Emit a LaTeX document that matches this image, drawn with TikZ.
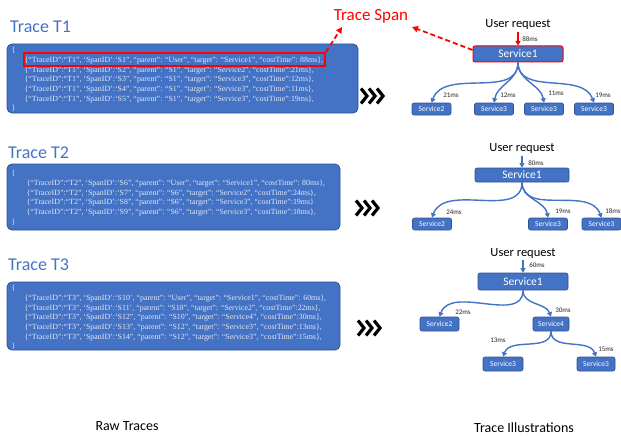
\documentclass[tikz,border=0pt]{standalone}
\usepackage{fontspec}
\setmainfont{Carlito}
\newfontfamily\jsonfont{Liberation Serif}
\usetikzlibrary{arrows.meta,calc}
\definecolor{boxblue}{HTML}{4472C4}
\definecolor{boxedge}{HTML}{2F528F}
\definecolor{jsontext}{HTML}{E4EAF6}

\tikzset{
  tracebox/.style={fill=boxblue, draw=boxedge, line width=0.8pt, rounded corners=5pt},
  json/.style={anchor=north west, align=left, inner sep=0pt, text=jsontext,
    font=\jsonfont\fontsize{7.9}{9.7}\selectfont},
  ttitle/.style={anchor=base west, inner sep=0pt, text=boxblue, font=\fontsize{18}{20}\selectfont},
  svc/.style={fill=boxblue, draw=boxedge, line width=0.6pt, rounded corners=2pt, text=white,
    inner sep=0pt, minimum height=12pt, minimum width=39pt, font=\fontsize{7.5}{9}\selectfont},
  svcmain/.style={svc, font=\fontsize{11.5}{13}\selectfont},
  ureq/.style={anchor=base, inner sep=0pt, font=\fontsize{12.5}{14}\selectfont},
  lat/.style={inner sep=0pt, text=black!85, font=\fontsize{7}{8}\selectfont},
  call/.style={draw=boxblue, line width=1.4pt, -{Triangle[length=4.5pt,width=5pt]}},
  spanarrow/.style={draw=red, line width=1.8pt, dash pattern=on 5pt off 3pt,
    -{Triangle[length=6pt,width=6pt]}},
  chev/.style={line width=3.2pt, miter limit=10},
  caption/.style={anchor=base, inner sep=0pt, font=\fontsize{14}{16}\selectfont},
}

\begin{document}
\begin{tikzpicture}[x=1pt, y=-1pt]
  \useasboundingbox (0,0) rectangle (621,436);

  % Raw trace T1
  \node[ttitle] (t1title) at (10,33) {Trace T1};
  \draw[tracebox] (7,44) rectangle (358,113);
  \node[json] (t1json) at (11.5,47) {\{\\
    \hspace*{13pt}\{“TraceID”:“T1”, ‘SpanID’:‘S1”, “parent”: “User”, “target”: “Service1”, “costTime”: 88ms\},\\
    \hspace*{13pt}\{“TraceID”:“T1”, ‘SpanID’:‘S2”, “parent”: “S1”, “target”: “Service2”, “costTime”:21ms\},\\
    \hspace*{13pt}\{“TraceID”:“T1”, ‘SpanID’:‘S3”, “parent”: “S1”, “target”: “Service3”, “costTime”:12ms\},\\
    \hspace*{13pt}\{“TraceID”:“T1”, ‘SpanID’:‘S4”, “parent”: “S1”, “target”: “Service3”, “costTime”:11ms\},\\
    \hspace*{13pt}\{“TraceID”:“T1”, ‘SpanID’:‘S5”, “parent”: “S1”, “target”: “Service3”, “costTime”:19ms\},\\
    \}};
  \node[draw=red, line width=1.8pt, minimum width=301pt, minimum height=13pt, inner sep=0pt]
    (hl) at (174.5,59.5) {};

  % Raw trace T2
  \node[ttitle] (t2title) at (8,158) {Trace T2};
  \draw[tracebox] (7,164) rectangle (340,230);
  \node[json] (t2json) at (11.5,170) {\{\\
    \hspace*{15pt}\{“TraceID”:“T2”, ‘SpanID’:‘S6”, “parent”: “User”, “target”: “Service1”, “costTime”: 80ms\},\\
    \hspace*{15pt}\{“TraceID”:“T2”, ‘SpanID’:‘S7”, “parent”: “S6”, “target”: “Service2”, “costTime”:24ms\},\\
    \hspace*{15pt}\{“TraceID”:“T2”, ‘SpanID’:‘S8”, “parent”: “S6”, “target”: “Service3”, “costTime”:19ms\}\\
    \hspace*{15pt}\{“TraceID”:“T2”, ‘SpanID’:‘S9”, “parent”: “S6”, “target”: “Service3”, “costTime”:18ms\},\\
    \}};

  % Raw trace T3
  \node[ttitle] (t3title) at (8,270) {Trace T3};
  \draw[tracebox] (7,282) rectangle (340,350);
  \node[json] (t3json) at (11.5,285) {\{\\
    \hspace*{13pt}\{“TraceID”:“T3”, ‘SpanID’:‘S10’, “parent”: “User”, “target”: “Service1”, “costTime”: 60ms\},\\
    \hspace*{13pt}\{“TraceID”:“T3”, ‘SpanID’:‘S11’, “parent”: “S10”, “target”: “Service2”, “costTime”:22ms\},\\
    \hspace*{13pt}\{“TraceID”:“T3”, ‘SpanID’:‘S12”, “parent”: “S10”, “target”: “Service4”, “costTime”:30ms\},\\
    \hspace*{13pt}\{“TraceID”:“T3”, ‘SpanID’:‘S13”, “parent”: “S12”, “target”: “Service3”, “costTime”:13ms\},\\
    \hspace*{13pt}\{“TraceID”:“T3”, ‘SpanID’:‘S14”, “parent”: “S12”, “target”: “Service3”, “costTime”:15ms\},\\
    \}};

  % Chevrons
  \foreach \cx/\cy in {361/96, 356/208, 358/328}
    \foreach \d in {0,8,16}
      \draw[chev] (\cx+\d,\cy-7.5) -- (\cx+\d+6,\cy) -- (\cx+\d,\cy+7.5);

  % Trace T1 illustration
  \node[ureq] (t1u) at (518,27.5) {User request};
  \node[svcmain, draw=red, line width=1pt, minimum width=90pt, minimum height=16pt] (t1s1) at (518,54) {Service1};
  \node[svc] (t1s2) at (431.5,109) {Service2};
  \node[svc] (t1s3) at (494,109) {Service3};
  \node[svc] (t1s4) at (544,109) {Service3};
  \node[svc] (t1s5) at (594,109) {Service3};
  \draw[call, draw=red] (t1u.south) ++(0,2) -- (t1s1.north);
  \draw[call] (t1s1.south) to[out=-90, in=70] (t1s2.north);
  \draw[call] (t1s1.south) to[out=-90, in=80] (t1s3.north);
  \draw[call] (t1s1.south) to[out=-90, in=100] (t1s4.north);
  \draw[call] (t1s1.south) to[out=-90, in=110] (t1s5.north);
  \node[lat] (t1l1) at (530,39) {88ms};
  \node[lat] (t1l2) at (451,95) {21ms};
  \node[lat] (t1l3) at (508,95) {12ms};
  \node[lat] (t1l4) at (556,93) {11ms};
  \node[lat] (t1l5) at (603,95) {19ms};

  % Trace span callout
  \node[anchor=base, inner sep=0pt, text=red, font=\fontsize{17}{19}\selectfont] (tspan) at (371,21) {Trace Span};
  \coordinate (tipA) at (342,27);
  \coordinate (tipB) at (412,27);
  \draw[spanarrow] (hl.north east) -- (tipA);
  \draw[spanarrow] ($(t1s1.west)+(0,-4)$) -- (tipB);

  % Trace T2 illustration
  \node[ureq] (t2u) at (522,151.5) {User request};
  \node[svcmain, minimum width=94pt, minimum height=14pt] (t2s1) at (522,175) {Service1};
  \node[svc] (t2s2) at (432,224) {Service2};
  \node[svc] (t2s3) at (548,224) {Service3};
  \node[svc] (t2s4) at (601.5,224) {Service3};
  \draw[call] (t2u.south) ++(0,2) -- (t2s1.north);
  \draw[call] (t2s1.south) to[out=-90, in=70] (t2s2.north);
  \draw[call] (t2s1.south) to[out=-90, in=100] (t2s3.north);
  \draw[call] (t2s1.south) to[out=-90, in=110] (t2s4.north);
  \node[lat] (t2l1) at (536,163) {80ms};
  \node[lat] (t2l2) at (454,212) {24ms};
  \node[lat] (t2l3) at (563,211) {19ms};
  \node[lat] (t2l4) at (613,211) {18ms};

  % Trace T3 illustration
  \node[ureq] (t3u) at (523,256) {User request};
  \node[svcmain, minimum width=90pt, minimum height=17pt] (t3s1) at (523,281.5) {Service1};
  \node[svc, minimum height=14pt] (t3s2) at (439.5,324) {Service2};
  \node[svc, minimum height=14pt, minimum width=36pt] (t3s4) at (551,324) {Service4};
  \node[svc, minimum height=14pt, minimum width=40pt] (t3s5) at (503,364) {Service3};
  \node[svc, minimum height=14pt, minimum width=38pt] (t3s6) at (596,364) {Service3};
  \draw[call] (t3u.south) ++(0,2) -- (t3s1.north);
  \draw[call] (t3s1.south) to[out=-90, in=70] (t3s2.north);
  \draw[call] (t3s1.south) to[out=-90, in=110] (t3s4.north);
  \draw[call] (t3s4.south) to[out=-90, in=70] (t3s5.north);
  \draw[call] (t3s4.south) to[out=-90, in=110] (t3s6.north);
  \node[lat] (t3l1) at (537,265) {60ms};
  \node[lat] (t3l2) at (463,312) {22ms};
  \node[lat] (t3l3) at (563,310) {30ms};
  \node[lat] (t3l4) at (498,340) {13ms};
  \node[lat] (t3l5) at (606,349) {15ms};

  % Captions
  \node[caption] (rawcap) at (127,430) {Raw Traces};
  \node[caption] (illcap) at (524,432) {Trace Illustrations};
\end{tikzpicture}
\end{document}
